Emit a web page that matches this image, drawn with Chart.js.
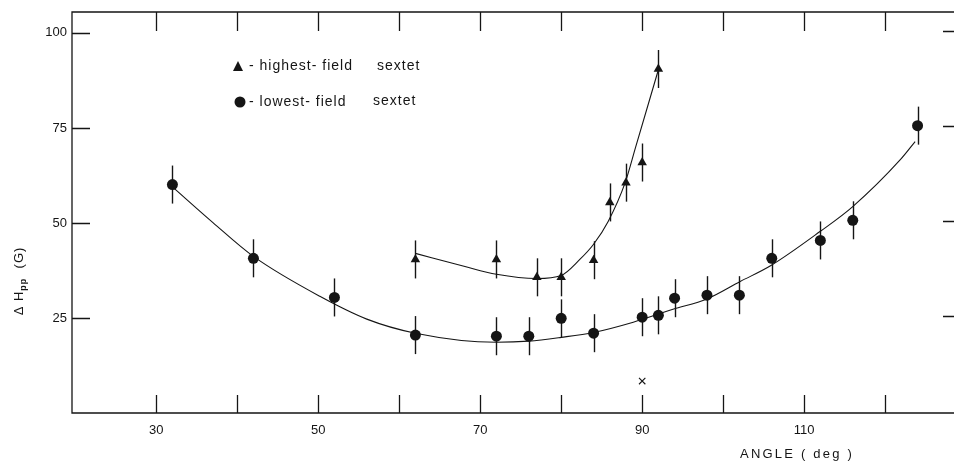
<!DOCTYPE html>
<html lang="en">
<head>
<meta charset="UTF-8">
<title>Linewidth vs angle</title>
<script src="https://cdn.jsdelivr.net/npm/chart.js@4.4.0/dist/chart.umd.min.js"></script>
<style>
  html, body { margin: 0; padding: 0; background: #fff; }
  #wrap { width: 954px; height: 461px; }
</style>
</head>
<body>
<div id="wrap"><canvas id="angleChart"></canvas></div>
<script>
// highest-field sextet (triangles)
const highAngle = [62, 72, 77, 80, 84, 86, 88, 90, 92];
const highWidth = [40.4, 40.4, 35.7, 35.7, 40.2, 55.4, 60.6, 65.9, 90.5];
const highError = [5, 5, 5, 5, 5, 5, 5, 5, 5];

// lowest-field sextet (circles)
const lowAngle = [32, 42, 52, 62, 72, 76, 80, 84, 90, 92, 94, 98, 102, 106, 112, 116, 124];
const lowWidth = [60.1, 40.7, 30.4, 20.5, 20.2, 20.2, 24.9, 21.0, 25.2, 25.7, 30.2, 31.0, 31.0, 40.7, 45.4, 50.7, 75.6];
const lowError = [5, 5, 5, 5, 5, 5, 5, 5, 5, 5, 5, 5, 5, 5, 5, 5, 5];

// hand-drawn fit curves
const highFitAngle = [62, 68, 72, 77, 80, 82.3, 84, 85.8, 87.9, 89.2, 92];
const highFitWidth = [42.0, 38.6, 36.5, 35.4, 36.2, 40.4, 44.4, 50.4, 60.6, 70.0, 90.3];
const lowFitAngle = [32, 37, 42, 50.2, 56, 62, 72, 76, 80, 84, 88.9, 93.8, 98, 102.1, 105.9, 112, 116, 121.9, 123.7];
const lowFitWidth = [59.5, 50.1, 41.2, 30.7, 24.7, 21.0, 18.6, 18.9, 19.9, 21.2, 23.9, 27.3, 30.0, 34.6, 38.8, 47.8, 54.3, 66.7, 71.4];

// the "X" mark near the axis
const markAngle = [90];
const markWidth = [8.4];

const xTickValues = [30, 40, 50, 60, 70, 80, 90, 100, 110, 120];
const xTickLabels = [30, 50, 70, 90, 110];
const yTickValues = [25, 50, 75, 100];

const ink = '#151515';
const font = '"Liberation Sans", Arial, sans-serif';

function pts(xs, ys) {
    return xs.map((v, i) => ({ x: v, y: ys[i] }));
}

const errorBars = {
    id: 'errorBars',
    beforeDatasetsDraw(chart) {
        const { ctx, scales: { x, y } } = chart;
        ctx.save();
        ctx.strokeStyle = ink;
        ctx.lineWidth = 1.4;
        [[highAngle, highWidth, highError], [lowAngle, lowWidth, lowError]].forEach(([xs, ys, es]) => {
            xs.forEach((v, i) => {
                const px = Math.round(x.getPixelForValue(v)) + 0.5;
                ctx.beginPath();
                ctx.moveTo(px, y.getPixelForValue(ys[i] + es[i]));
                ctx.lineTo(px, y.getPixelForValue(ys[i] - es[i]));
                ctx.stroke();
            });
        });
        ctx.restore();
    }
};

const frame = {
    id: 'frame',
    afterDraw(chart) {
        const { ctx, chartArea: a, scales: { x, y } } = chart;
        ctx.save();
        ctx.strokeStyle = ink;
        ctx.lineWidth = 1.3;
        ctx.beginPath();
        ctx.moveTo(a.right, a.top);
        ctx.lineTo(a.left, a.top);
        ctx.lineTo(a.left, a.bottom);
        ctx.lineTo(a.right, a.bottom);
        // inward ticks, bottom and top
        xTickValues.forEach(v => {
            const px = Math.round(x.getPixelForValue(v)) + 0.5;
            ctx.moveTo(px, a.bottom);
            ctx.lineTo(px, a.bottom - 18);
            ctx.moveTo(px, a.top);
            ctx.lineTo(px, a.top + 19);
        });
        // inward ticks, left and right
        yTickValues.forEach(v => {
            const py = Math.round(y.getPixelForValue(v)) + 0.5;
            ctx.moveTo(a.left, py);
            ctx.lineTo(a.left + 18, py);
            ctx.moveTo(a.right, py - 2);
            ctx.lineTo(a.right - 11, py - 2);
        });
        ctx.stroke();

        // axis titles
        ctx.fillStyle = ink;
        ctx.textBaseline = 'middle';
        ctx.textAlign = 'center';
        ctx.font = '13px ' + font;
        ctx.letterSpacing = '2.2px';
        ctx.fillText('ANGLE ( deg )', 797, 454);

        ctx.translate(19, 281);
        ctx.rotate(-Math.PI / 2);
        ctx.textAlign = 'left';
        ctx.letterSpacing = '1px';
        ctx.font = '13px ' + font;
        const w1 = ctx.measureText('\u0394 H').width;
        ctx.font = 'bold 9px ' + font;
        const w2 = ctx.measureText('pp').width;
        ctx.font = '13px ' + font;
        const w3 = ctx.measureText('  (G)').width;
        let sx = -(w1 + w2 + w3) / 2;
        ctx.fillText('\u0394 H', sx, 0);
        sx += w1;
        ctx.font = 'bold 9px ' + font;
        ctx.fillText('pp', sx, 5);
        sx += w2;
        ctx.font = '13px ' + font;
        ctx.fillText('  (G)', sx, 0);
        ctx.restore();

        // legend
        ctx.save();
        ctx.fillStyle = ink;
        ctx.beginPath();
        ctx.moveTo(238, 61);
        ctx.lineTo(243, 71);
        ctx.lineTo(233, 71);
        ctx.closePath();
        ctx.fill();
        ctx.beginPath();
        ctx.arc(240, 102, 5.5, 0, Math.PI * 2);
        ctx.fill();
        ctx.font = '14px ' + font;
        ctx.letterSpacing = '1px';
        ctx.textBaseline = 'middle';
        ctx.fillText('- highest- field', 249, 66);
        ctx.fillText('sextet', 377, 66);
        ctx.fillText('- lowest- field', 249, 102);
        ctx.fillText('sextet', 373, 101);
        ctx.restore();
    }
};

new Chart(document.getElementById('angleChart'), {
    type: 'scatter',
    data: {
        datasets: [
            {
                label: 'highest-field fit',
                data: pts(highFitAngle, highFitWidth),
                showLine: true,
                borderColor: ink,
                borderWidth: 1.1,
                pointRadius: 0,
                cubicInterpolationMode: 'monotone'
            },
            {
                label: 'lowest-field fit',
                data: pts(lowFitAngle, lowFitWidth),
                showLine: true,
                borderColor: ink,
                borderWidth: 1.1,
                pointRadius: 0,
                cubicInterpolationMode: 'monotone'
            },
            {
                label: 'highest-field sextet',
                data: pts(highAngle, highWidth),
                pointStyle: 'triangle',
                pointRadius: 5.5,
                backgroundColor: ink,
                borderColor: ink,
                borderWidth: 0
            },
            {
                label: 'lowest-field sextet',
                data: pts(lowAngle, lowWidth),
                pointStyle: 'circle',
                pointRadius: 5.5,
                backgroundColor: ink,
                borderColor: ink,
                borderWidth: 0
            },
            {
                label: 'X',
                data: pts(markAngle, markWidth),
                pointStyle: 'crossRot',
                pointRadius: 4.5,
                borderColor: ink,
                borderWidth: 1.1
            }
        ]
    },
    options: {
        responsive: true,
        maintainAspectRatio: false,
        animation: false,
        events: [],
        layout: { autoPadding: false, padding: { top: 12, right: 0, left: 0, bottom: 0 } },
        plugins: {
            legend: { display: false },
            tooltip: { enabled: false }
        },
        scales: {
            x: {
                type: 'linear',
                min: 19.6,
                max: 128.5,
                afterBuildTicks: s => { s.ticks = xTickValues.map(v => ({ value: v })); },
                afterFit: s => { s.height = 48; s.paddingLeft = 0; s.paddingRight = 0; },
                grid: { display: false, drawTicks: false },
                border: { display: false },
                ticks: {
                    autoSkip: false,
                    maxRotation: 0,
                    padding: 10,
                    color: ink,
                    font: { family: font, size: 13 },
                    callback: v => xTickLabels.includes(v) ? String(v) : ''
                }
            },
            y: {
                type: 'linear',
                min: 0,
                max: 105.5,
                afterBuildTicks: s => { s.ticks = yTickValues.map(v => ({ value: v })); },
                afterFit: s => { s.width = 72; s.paddingTop = 0; s.paddingBottom = 0; },
                grid: { display: false, drawTicks: false },
                border: { display: false },
                ticks: {
                    padding: 5,
                    color: ink,
                    font: { family: font, size: 13 },
                    callback: v => String(v)
                }
            }
        }
    },
    plugins: [errorBars, frame]
});
</script>
</body>
</html>
